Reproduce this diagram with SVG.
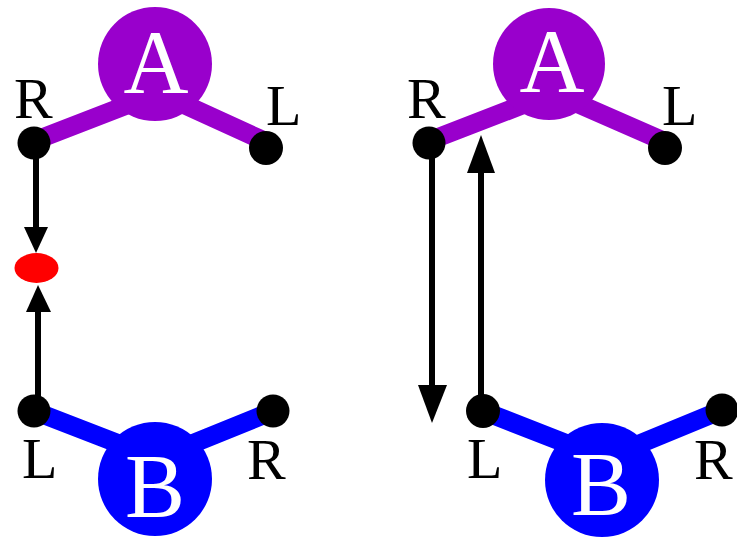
<svg xmlns="http://www.w3.org/2000/svg" width="737" height="538" viewBox="0 0 737 538">
  <style>
    .bg { fill: #ffffff; }
    .armA { stroke: #9900cc; stroke-width: 19; stroke-linecap: round; fill: none; }
    .armB { stroke: #0000ff; stroke-width: 19; stroke-linecap: round; fill: none; }
    .bodyA { fill: #9900cc; }
    .bodyB { fill: #0000ff; }
    .dot { fill: #000000; }
    .big { font-size: 90px; fill: #ffffff; text-anchor: middle; }
    .side { font-size: 58px; fill: #000000; }
    .wire { stroke: #000000; stroke-width: 6; fill: none; }
    .head { fill: #000000; }
  </style>
  <rect class="bg" x="0" y="0" width="737" height="538"/>

  <g font-family="Liberation Serif, serif">
  <!-- left pair: strands meet at a red point -->
  <g id="left-A">
    <line class="armA" x1="34" y1="141" x2="140" y2="100"/>
    <line class="armA" x1="170" y1="98" x2="262" y2="140"/>
    <circle class="bodyA" cx="155" cy="64" r="57"/>
    <circle class="dot" cx="34" cy="143" r="16.5"/>
    <circle class="dot" cx="266" cy="148" r="17"/>
    <text class="big" x="156" y="93">A</text>
    <text class="side" x="14" y="118">R</text>
    <text class="side" x="266" y="125">L</text>
  </g>

  <g id="left-B">
    <line class="armB" x1="34" y1="411" x2="140" y2="452"/>
    <line class="armB" x1="273" y1="411" x2="172" y2="452"/>
    <circle class="bodyB" cx="155" cy="479" r="57"/>
    <circle class="dot" cx="34" cy="411" r="16.5"/>
    <circle class="dot" cx="273" cy="411" r="16.5"/>
    <text class="big" x="155" y="517">B</text>
    <text class="side" x="22" y="478">L</text>
    <text class="side" x="247" y="479">R</text>
  </g>

  <g id="meeting-point">
    <ellipse cx="36.5" cy="268" rx="22" ry="15" fill="#ff0000"/>
  </g>

  <!-- right pair: strands pass each other -->
  <g id="right-A">
    <line class="armA" x1="429" y1="141" x2="535" y2="100"/>
    <line class="armA" x1="565" y1="98" x2="661" y2="140"/>
    <circle class="bodyA" cx="549" cy="64" r="56"/>
    <circle class="dot" cx="429" cy="143" r="16.5"/>
    <circle class="dot" cx="665" cy="148" r="17"/>
    <text class="big" x="552" y="92">A</text>
    <text class="side" x="407" y="118">R</text>
    <text class="side" x="662" y="125">L</text>
  </g>

  <g id="right-B">
    <line class="armB" x1="483" y1="411" x2="588" y2="452"/>
    <line class="armB" x1="722" y1="410" x2="620" y2="452"/>
    <circle class="bodyB" cx="602" cy="480" r="57"/>
    <circle class="dot" cx="483" cy="411" r="17"/>
    <circle class="dot" cx="722" cy="410" r="16.5"/>
    <text class="big" x="601" y="515">B</text>
    <text class="side" x="467" y="478">L</text>
    <text class="side" x="694" y="479">R</text>
  </g>
  </g>

  <g id="connectors">
    <!-- left: R end of A grows down, L end of B grows up -->
    <line class="wire" x1="36" y1="143" x2="36" y2="230"/>
    <polygon class="head" points="24,227 48,227 36,253"/>
    <line class="wire" x1="38" y1="309" x2="38" y2="411"/>
    <polygon class="head" points="26,312 51,312 38,285"/>
    <!-- right: the two strands run past each other -->
    <line class="wire" x1="432" y1="143" x2="432" y2="388"/>
    <polygon class="head" points="418,385 447,385 432,423"/>
    <line class="wire" x1="481" y1="170" x2="481" y2="411"/>
    <polygon class="head" points="467,173 495,173 481,135"/>
  </g>
</svg>
